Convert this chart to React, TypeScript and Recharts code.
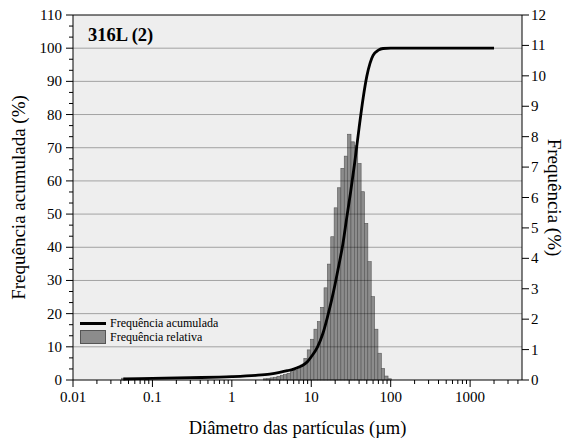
import React from "react";
import {
  ComposedChart,
  Bar,
  Line,
  XAxis,
  YAxis,
  CartesianGrid,
  ReferenceLine,
  Legend,
  Label,
} from "recharts";

const FONT = '"Liberation Serif", "Times New Roman", serif';

// histogram bins (µm) and relative frequency (%)
const binD = [
  0.043, 0.086, 2.62, 2.89, 3.19, 3.52, 3.88, 4.28, 4.71, 5.2, 5.73, 6.32,
  6.97, 7.68, 8.47, 9.34, 10.29, 11.35, 12.51, 13.8, 15.21, 16.77, 18.49,
  20.39, 22.48, 24.78, 27.32, 30.12, 33.21, 36.62, 40.37, 44.51, 49.08, 54.11,
  59.66, 65.78, 72.52, 79.96, 88.16, 97.2,
];
const binFreq = [
  0.06, 0.03, 0.04, 0.05, 0.07, 0.09, 0.12, 0.15, 0.18, 0.22, 0.27, 0.33,
  0.4, 0.49, 0.71, 0.99, 1.34, 1.67, 1.92, 2.39, 3.03, 3.81, 4.71, 5.66, 6.32,
  6.96, 7.36, 8.08, 7.83, 7.7, 7.12, 6.19, 5.15, 3.89, 2.74, 1.67, 0.88, 0.38,
  0.13, 0.04,
];
const BAR_W = 3.4; // px, one log bin

// cumulative curve (µm, %)
const cumD = [
  0.043, 0.1, 0.3, 1, 2, 3, 4, 5, 6, 7, 8, 9, 10, 12, 14, 16, 18, 20, 22, 25,
  28, 31, 35, 40, 45, 50, 55, 60, 70, 80, 100, 2000,
];
const cumPct = [
  0.3, 0.5, 0.7, 1.0, 1.4, 1.8, 2.3, 2.8, 3.3, 3.9, 4.6, 5.6, 7, 10, 14, 19,
  24, 29, 34, 41, 49, 56, 65, 76, 85, 91.5, 95.5, 97.8, 99.4, 99.9, 100, 100,
];

const xMajor = [0.01, 0.1, 1, 10, 100, 1000];
const xMajorLabels = ["0.01", "0.1", "1", "10", "100", "1000"];
const xTicks = [
  0.01, 0.02, 0.03, 0.04, 0.05, 0.06, 0.07, 0.08, 0.09,
  0.1, 0.2, 0.3, 0.4, 0.5, 0.6, 0.7, 0.8, 0.9,
  1, 2, 3, 4, 5, 6, 7, 8, 9,
  10, 20, 30, 40, 50, 60, 70, 80, 90,
  100, 200, 300, 400, 500, 600, 700, 800, 900,
  1000, 2000, 3000, 4000,
];
const leftMajor = [0, 10, 20, 30, 40, 50, 60, 70, 80, 90, 100, 110];
const rightMajor = [0, 1, 2, 3, 4, 5, 6, 7, 8, 9, 10, 11, 12];

const seriesNames = ["Frequência acumulada", "Frequência relativa"];

const barData = binD.map((d, i) => ({ d, freq: binFreq[i] }));
const lineData = cumD.map((d, i) => ({ d, cum: cumPct[i] }));

const leftTicks: number[] = [];
leftMajor.forEach((v, i) => {
  leftTicks.push(v);
  if (i < leftMajor.length - 1) {
    leftTicks.push(v + 10 / 3, v + 20 / 3);
  }
});

const isMajor = (list: number[], v: number) =>
  list.findIndex((m) => Math.abs(m - v) < 1e-6);

const XTick = ({ x, y, payload }: any) => {
  const idx = isMajor(xMajor, payload.value);
  return (
    <g>
      <line x1={x} x2={x} y1={y} y2={y + (idx >= 0 ? 7 : 4)} stroke="#000" />
      {idx >= 0 && (
        <text x={x} y={y + 22} textAnchor="middle" fontFamily={FONT} fontSize={15} fill="#000">
          {xMajorLabels[idx]}
        </text>
      )}
    </g>
  );
};

const LeftTick = ({ x, y, payload }: any) => {
  const major = isMajor(leftMajor, payload.value) >= 0;
  return (
    <g>
      <line x1={x} x2={x - (major ? 7 : 4)} y1={y} y2={y} stroke="#000" />
      {major && (
        <text x={x - 11} y={y + 5} textAnchor="end" fontFamily={FONT} fontSize={15} fill="#000">
          {payload.value}
        </text>
      )}
    </g>
  );
};

const RightTick = ({ x, y, payload }: any) => (
  <g>
    <line x1={x} x2={x + 7} y1={y} y2={y} stroke="#000" />
    <text x={x + 9} y={y + 5} textAnchor="start" fontFamily={FONT} fontSize={15} fill="#000">
      {payload.value}
    </text>
  </g>
);

// bins are equal in log space, so every bar gets the same pixel width
const BinBar = ({ x, y, width, height }: any) => {
  if (!height || height <= 0) return null;
  const cx = x + width / 2;
  return (
    <rect
      x={cx - BAR_W / 2}
      y={y}
      width={BAR_W}
      height={height}
      fill="#8c8c8c"
      stroke="#555"
      strokeWidth={0.6}
    />
  );
};

const LegendBox = () => (
  <div style={{ fontFamily: FONT, fontSize: 12, color: "#000", lineHeight: "14px" }}>
    <div style={{ display: "flex", alignItems: "center", height: 14 }}>
      <span style={{ display: "inline-block", width: 26, height: 3, background: "#000", marginRight: 4 }} />
      {seriesNames[0]}
    </div>
    <div style={{ display: "flex", alignItems: "center", height: 14 }}>
      <span
        style={{
          display: "inline-block",
          width: 24,
          height: 12,
          background: "#8c8c8c",
          border: "1px solid #555",
          marginRight: 4,
        }}
      />
      {seriesNames[1]}
    </div>
  </div>
);

export default function App() {
  return (
    <div style={{ position: "absolute", left: 0, top: 0, width: 577, height: 444, background: "#fff" }}>
      <ComposedChart
        width={577}
        height={444}
        data={barData}
        margin={{ top: 15, right: 0, bottom: 0, left: 0 }}
      >
        <CartesianGrid
          yAxisId="left"
          fill="#eeeeee"
          vertical={false}
          horizontal={false}
        />
        <XAxis
          dataKey="d"
          type="number"
          scale="log"
          domain={[0.01, 4500]}
          allowDataOverflow
          ticks={xTicks}
          interval={0}
          tickSize={0}
          tickMargin={0}
          tickLine={false}
          tick={<XTick />}
          axisLine={{ stroke: "#000" }}
          height={64}
        >
          <Label
            value="Diâmetro das partículas (µm)"
            position="insideBottom"
            offset={10}
            style={{ fontFamily: FONT, fontSize: 18.5, fill: "#000" }}
          />
        </XAxis>
        <YAxis
          yAxisId="left"
          domain={[0, 110]}
          ticks={leftTicks}
          interval={0}
          tickSize={0}
          tickMargin={0}
          tickLine={false}
          tick={<LeftTick />}
          axisLine={{ stroke: "#000" }}
          width={73}
        >
          <Label
            value="Frequência acumulada (%)"
            angle={-90}
            position="insideLeft"
            offset={18}
            style={{ fontFamily: FONT, fontSize: 19, fill: "#000", textAnchor: "middle" }}
          />
        </YAxis>
        <YAxis
          yAxisId="right"
          orientation="right"
          domain={[0, 12]}
          ticks={rightMajor}
          interval={0}
          tickSize={0}
          tickMargin={0}
          tickLine={false}
          tick={<RightTick />}
          axisLine={{ stroke: "#000" }}
          width={55}
        >
          <Label
            value="Frequência (%)"
            angle={90}
            position="insideRight"
            offset={22}
            style={{ fontFamily: FONT, fontSize: 19, fill: "#000", textAnchor: "middle" }}
          />
        </YAxis>
        <Bar
          yAxisId="right"
          dataKey="freq"
          name={seriesNames[1]}
          barSize={BAR_W}
          fill="#8c8c8c"
          shape={<BinBar />}
          isAnimationActive={false}
        />
        {leftMajor
          .filter((v) => v > 0 && v < 110)
          .map((v) => (
            <ReferenceLine key={v} yAxisId="left" y={v} stroke="#000" strokeOpacity={0.32} />
          ))}
        <ReferenceLine yAxisId="left" y={110} stroke="#000" />
        <Line
          yAxisId="left"
          data={lineData}
          dataKey="cum"
          name={seriesNames[0]}
          type="monotone"
          stroke="#000"
          strokeWidth={2.8}
          dot={false}
          isAnimationActive={false}
        />
        <Legend
          layout="vertical"
          align="center"
          verticalAlign="middle"
          content={<LegendBox />}
          wrapperStyle={{ left: 80, top: 316, width: "auto" }}
        />
      </ComposedChart>
      <div
        style={{
          position: "absolute",
          left: 88,
          top: 24,
          fontFamily: FONT,
          fontSize: 18.5,
          fontWeight: "bold",
          lineHeight: "22px",
        }}
      >
        316L (2)
      </div>
    </div>
  );
}
